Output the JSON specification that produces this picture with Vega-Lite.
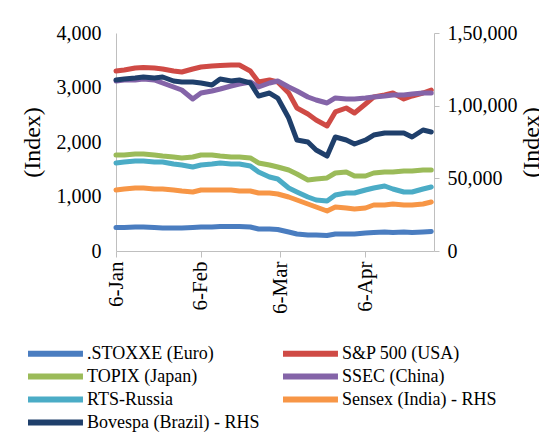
{
"$schema": "https://vega.github.io/schema/vega-lite/v6.json",
"width": 318,
"height": 218,
"autosize": "none",
"padding": {"left": 116, "top": 33, "right": 105, "bottom": 187},
"background": "white",
"config": {
  "view": {"stroke": null},
  "font": "Liberation Serif",
  "axis": {"grid": false, "labelFont": "Liberation Serif", "labelFontSize": 20, "labelColor": "#000000", "titleFont": "Liberation Serif", "titleFontSize": 24, "titleFontWeight": "normal", "titleColor": "#000000", "domainColor": "#BFBFBF", "tickColor": "#BFBFBF"}
},
"datasets": {
"idx": [
{"d":"2020-01-06","s":".STOXXE (Euro)","v":431},{"d":"2020-01-09","s":".STOXXE (Euro)","v":431},{"d":"2020-01-13","s":".STOXXE (Euro)","v":440},{"d":"2020-01-16","s":".STOXXE (Euro)","v":440},{"d":"2020-01-20","s":".STOXXE (Euro)","v":431},{"d":"2020-01-23","s":".STOXXE (Euro)","v":422},{"d":"2020-01-27","s":".STOXXE (Euro)","v":422},{"d":"2020-01-30","s":".STOXXE (Euro)","v":422},{"d":"2020-02-03","s":".STOXXE (Euro)","v":431},{"d":"2020-02-06","s":".STOXXE (Euro)","v":440},{"d":"2020-02-10","s":".STOXXE (Euro)","v":440},{"d":"2020-02-13","s":".STOXXE (Euro)","v":450},{"d":"2020-02-17","s":".STOXXE (Euro)","v":450},{"d":"2020-02-20","s":".STOXXE (Euro)","v":450},{"d":"2020-02-24","s":".STOXXE (Euro)","v":440},{"d":"2020-02-27","s":".STOXXE (Euro)","v":404},{"d":"2020-03-02","s":".STOXXE (Euro)","v":404},{"d":"2020-03-05","s":".STOXXE (Euro)","v":395},{"d":"2020-03-09","s":".STOXXE (Euro)","v":349},{"d":"2020-03-12","s":".STOXXE (Euro)","v":312},{"d":"2020-03-16","s":".STOXXE (Euro)","v":294},{"d":"2020-03-19","s":".STOXXE (Euro)","v":294},{"d":"2020-03-23","s":".STOXXE (Euro)","v":284},{"d":"2020-03-26","s":".STOXXE (Euro)","v":312},{"d":"2020-03-30","s":".STOXXE (Euro)","v":312},{"d":"2020-04-02","s":".STOXXE (Euro)","v":312},{"d":"2020-04-06","s":".STOXXE (Euro)","v":330},{"d":"2020-04-09","s":".STOXXE (Euro)","v":339},{"d":"2020-04-13","s":".STOXXE (Euro)","v":349},{"d":"2020-04-16","s":".STOXXE (Euro)","v":339},{"d":"2020-04-20","s":".STOXXE (Euro)","v":349},{"d":"2020-04-23","s":".STOXXE (Euro)","v":339},{"d":"2020-04-27","s":".STOXXE (Euro)","v":349},{"d":"2020-04-30","s":".STOXXE (Euro)","v":358},
{"d":"2020-01-06","s":"S&P 500 (USA)","v":3303},{"d":"2020-01-09","s":"S&P 500 (USA)","v":3321},{"d":"2020-01-13","s":"S&P 500 (USA)","v":3358},{"d":"2020-01-16","s":"S&P 500 (USA)","v":3367},{"d":"2020-01-20","s":"S&P 500 (USA)","v":3358},{"d":"2020-01-23","s":"S&P 500 (USA)","v":3340},{"d":"2020-01-27","s":"S&P 500 (USA)","v":3303},{"d":"2020-01-30","s":"S&P 500 (USA)","v":3285},{"d":"2020-02-03","s":"S&P 500 (USA)","v":3340},{"d":"2020-02-06","s":"S&P 500 (USA)","v":3376},{"d":"2020-02-10","s":"S&P 500 (USA)","v":3395},{"d":"2020-02-13","s":"S&P 500 (USA)","v":3404},{"d":"2020-02-17","s":"S&P 500 (USA)","v":3413},{"d":"2020-02-20","s":"S&P 500 (USA)","v":3413},{"d":"2020-02-24","s":"S&P 500 (USA)","v":3303},{"d":"2020-02-27","s":"S&P 500 (USA)","v":3101},{"d":"2020-03-02","s":"S&P 500 (USA)","v":3138},{"d":"2020-03-05","s":"S&P 500 (USA)","v":3101},{"d":"2020-03-09","s":"S&P 500 (USA)","v":2899},{"d":"2020-03-12","s":"S&P 500 (USA)","v":2624},{"d":"2020-03-16","s":"S&P 500 (USA)","v":2514},{"d":"2020-03-19","s":"S&P 500 (USA)","v":2404},{"d":"2020-03-23","s":"S&P 500 (USA)","v":2294},{"d":"2020-03-26","s":"S&P 500 (USA)","v":2551},{"d":"2020-03-30","s":"S&P 500 (USA)","v":2624},{"d":"2020-04-02","s":"S&P 500 (USA)","v":2532},{"d":"2020-04-06","s":"S&P 500 (USA)","v":2697},{"d":"2020-04-09","s":"S&P 500 (USA)","v":2826},{"d":"2020-04-13","s":"S&P 500 (USA)","v":2863},{"d":"2020-04-16","s":"S&P 500 (USA)","v":2899},{"d":"2020-04-20","s":"S&P 500 (USA)","v":2789},{"d":"2020-04-23","s":"S&P 500 (USA)","v":2844},{"d":"2020-04-27","s":"S&P 500 (USA)","v":2899},{"d":"2020-04-30","s":"S&P 500 (USA)","v":2954},
{"d":"2020-01-06","s":"TOPIX (Japan)","v":1762},{"d":"2020-01-09","s":"TOPIX (Japan)","v":1762},{"d":"2020-01-13","s":"TOPIX (Japan)","v":1780},{"d":"2020-01-16","s":"TOPIX (Japan)","v":1780},{"d":"2020-01-20","s":"TOPIX (Japan)","v":1762},{"d":"2020-01-23","s":"TOPIX (Japan)","v":1743},{"d":"2020-01-27","s":"TOPIX (Japan)","v":1725},{"d":"2020-01-30","s":"TOPIX (Japan)","v":1707},{"d":"2020-02-03","s":"TOPIX (Japan)","v":1725},{"d":"2020-02-06","s":"TOPIX (Japan)","v":1762},{"d":"2020-02-10","s":"TOPIX (Japan)","v":1762},{"d":"2020-02-13","s":"TOPIX (Japan)","v":1743},{"d":"2020-02-17","s":"TOPIX (Japan)","v":1725},{"d":"2020-02-20","s":"TOPIX (Japan)","v":1725},{"d":"2020-02-24","s":"TOPIX (Japan)","v":1707},{"d":"2020-02-27","s":"TOPIX (Japan)","v":1615},{"d":"2020-03-02","s":"TOPIX (Japan)","v":1578},{"d":"2020-03-05","s":"TOPIX (Japan)","v":1541},{"d":"2020-03-09","s":"TOPIX (Japan)","v":1486},{"d":"2020-03-12","s":"TOPIX (Japan)","v":1413},{"d":"2020-03-16","s":"TOPIX (Japan)","v":1303},{"d":"2020-03-19","s":"TOPIX (Japan)","v":1321},{"d":"2020-03-23","s":"TOPIX (Japan)","v":1340},{"d":"2020-03-26","s":"TOPIX (Japan)","v":1431},{"d":"2020-03-30","s":"TOPIX (Japan)","v":1450},{"d":"2020-04-02","s":"TOPIX (Japan)","v":1376},{"d":"2020-04-06","s":"TOPIX (Japan)","v":1376},{"d":"2020-04-09","s":"TOPIX (Japan)","v":1431},{"d":"2020-04-13","s":"TOPIX (Japan)","v":1450},{"d":"2020-04-16","s":"TOPIX (Japan)","v":1450},{"d":"2020-04-20","s":"TOPIX (Japan)","v":1468},{"d":"2020-04-23","s":"TOPIX (Japan)","v":1468},{"d":"2020-04-27","s":"TOPIX (Japan)","v":1486},{"d":"2020-04-30","s":"TOPIX (Japan)","v":1486},
{"d":"2020-01-06","s":"SSEC (China)","v":3120},{"d":"2020-01-09","s":"SSEC (China)","v":3138},{"d":"2020-01-13","s":"SSEC (China)","v":3138},{"d":"2020-01-16","s":"SSEC (China)","v":3156},{"d":"2020-01-20","s":"SSEC (China)","v":3138},{"d":"2020-01-23","s":"SSEC (China)","v":3083},{"d":"2020-01-27","s":"SSEC (China)","v":3009},{"d":"2020-01-30","s":"SSEC (China)","v":2954},{"d":"2020-02-03","s":"SSEC (China)","v":2789},{"d":"2020-02-06","s":"SSEC (China)","v":2899},{"d":"2020-02-10","s":"SSEC (China)","v":2936},{"d":"2020-02-13","s":"SSEC (China)","v":2973},{"d":"2020-02-17","s":"SSEC (China)","v":3028},{"d":"2020-02-20","s":"SSEC (China)","v":3064},{"d":"2020-02-24","s":"SSEC (China)","v":3101},{"d":"2020-02-27","s":"SSEC (China)","v":3009},{"d":"2020-03-02","s":"SSEC (China)","v":3083},{"d":"2020-03-05","s":"SSEC (China)","v":3120},{"d":"2020-03-09","s":"SSEC (China)","v":3009},{"d":"2020-03-12","s":"SSEC (China)","v":2936},{"d":"2020-03-16","s":"SSEC (China)","v":2826},{"d":"2020-03-19","s":"SSEC (China)","v":2771},{"d":"2020-03-23","s":"SSEC (China)","v":2716},{"d":"2020-03-26","s":"SSEC (China)","v":2808},{"d":"2020-03-30","s":"SSEC (China)","v":2789},{"d":"2020-04-02","s":"SSEC (China)","v":2789},{"d":"2020-04-06","s":"SSEC (China)","v":2808},{"d":"2020-04-09","s":"SSEC (China)","v":2826},{"d":"2020-04-13","s":"SSEC (China)","v":2844},{"d":"2020-04-16","s":"SSEC (China)","v":2863},{"d":"2020-04-20","s":"SSEC (China)","v":2863},{"d":"2020-04-23","s":"SSEC (China)","v":2881},{"d":"2020-04-27","s":"SSEC (China)","v":2899},{"d":"2020-04-30","s":"SSEC (China)","v":2899},
{"d":"2020-01-06","s":"RTS-Russia","v":1615},{"d":"2020-01-09","s":"RTS-Russia","v":1633},{"d":"2020-01-13","s":"RTS-Russia","v":1652},{"d":"2020-01-16","s":"RTS-Russia","v":1652},{"d":"2020-01-20","s":"RTS-Russia","v":1633},{"d":"2020-01-23","s":"RTS-Russia","v":1633},{"d":"2020-01-27","s":"RTS-Russia","v":1596},{"d":"2020-01-30","s":"RTS-Russia","v":1578},{"d":"2020-02-03","s":"RTS-Russia","v":1541},{"d":"2020-02-06","s":"RTS-Russia","v":1578},{"d":"2020-02-10","s":"RTS-Russia","v":1596},{"d":"2020-02-13","s":"RTS-Russia","v":1615},{"d":"2020-02-17","s":"RTS-Russia","v":1596},{"d":"2020-02-20","s":"RTS-Russia","v":1596},{"d":"2020-02-24","s":"RTS-Russia","v":1560},{"d":"2020-02-27","s":"RTS-Russia","v":1450},{"d":"2020-03-02","s":"RTS-Russia","v":1358},{"d":"2020-03-05","s":"RTS-Russia","v":1321},{"d":"2020-03-09","s":"RTS-Russia","v":1156},{"d":"2020-03-12","s":"RTS-Russia","v":1083},{"d":"2020-03-16","s":"RTS-Russia","v":991},{"d":"2020-03-19","s":"RTS-Russia","v":936},{"d":"2020-03-23","s":"RTS-Russia","v":918},{"d":"2020-03-26","s":"RTS-Russia","v":1028},{"d":"2020-03-30","s":"RTS-Russia","v":1064},{"d":"2020-04-02","s":"RTS-Russia","v":1064},{"d":"2020-04-06","s":"RTS-Russia","v":1119},{"d":"2020-04-09","s":"RTS-Russia","v":1156},{"d":"2020-04-13","s":"RTS-Russia","v":1193},{"d":"2020-04-16","s":"RTS-Russia","v":1138},{"d":"2020-04-20","s":"RTS-Russia","v":1083},{"d":"2020-04-23","s":"RTS-Russia","v":1083},{"d":"2020-04-27","s":"RTS-Russia","v":1138},{"d":"2020-04-30","s":"RTS-Russia","v":1174},
{"d":"2020-01-06","s":"Sensex (India) - RHS","v":41968},{"d":"2020-01-09","s":"Sensex (India) - RHS","v":42656},{"d":"2020-01-13","s":"Sensex (India) - RHS","v":43344},{"d":"2020-01-16","s":"Sensex (India) - RHS","v":43344},{"d":"2020-01-20","s":"Sensex (India) - RHS","v":42656},{"d":"2020-01-23","s":"Sensex (India) - RHS","v":42656},{"d":"2020-01-27","s":"Sensex (India) - RHS","v":41968},{"d":"2020-01-30","s":"Sensex (India) - RHS","v":41280},{"d":"2020-02-03","s":"Sensex (India) - RHS","v":40592},{"d":"2020-02-06","s":"Sensex (India) - RHS","v":41968},{"d":"2020-02-10","s":"Sensex (India) - RHS","v":41968},{"d":"2020-02-13","s":"Sensex (India) - RHS","v":41968},{"d":"2020-02-17","s":"Sensex (India) - RHS","v":41968},{"d":"2020-02-20","s":"Sensex (India) - RHS","v":41280},{"d":"2020-02-24","s":"Sensex (India) - RHS","v":41280},{"d":"2020-02-27","s":"Sensex (India) - RHS","v":39904},{"d":"2020-03-02","s":"Sensex (India) - RHS","v":39904},{"d":"2020-03-05","s":"Sensex (India) - RHS","v":39216},{"d":"2020-03-09","s":"Sensex (India) - RHS","v":37152},{"d":"2020-03-12","s":"Sensex (India) - RHS","v":35088},{"d":"2020-03-16","s":"Sensex (India) - RHS","v":32336},{"d":"2020-03-19","s":"Sensex (India) - RHS","v":30272},{"d":"2020-03-23","s":"Sensex (India) - RHS","v":27520},{"d":"2020-03-26","s":"Sensex (India) - RHS","v":30272},{"d":"2020-03-30","s":"Sensex (India) - RHS","v":29584},{"d":"2020-04-02","s":"Sensex (India) - RHS","v":28896},{"d":"2020-04-06","s":"Sensex (India) - RHS","v":29584},{"d":"2020-04-09","s":"Sensex (India) - RHS","v":31648},{"d":"2020-04-13","s":"Sensex (India) - RHS","v":31648},{"d":"2020-04-16","s":"Sensex (India) - RHS","v":32336},{"d":"2020-04-20","s":"Sensex (India) - RHS","v":31648},{"d":"2020-04-23","s":"Sensex (India) - RHS","v":31648},{"d":"2020-04-27","s":"Sensex (India) - RHS","v":32336},{"d":"2020-04-30","s":"Sensex (India) - RHS","v":33712},
{"d":"2020-01-06","s":"Bovespa (Brazil) - RHS","v":117648},{"d":"2020-01-09","s":"Bovespa (Brazil) - RHS","v":118336},{"d":"2020-01-13","s":"Bovespa (Brazil) - RHS","v":119024},{"d":"2020-01-16","s":"Bovespa (Brazil) - RHS","v":119712},{"d":"2020-01-20","s":"Bovespa (Brazil) - RHS","v":119024},{"d":"2020-01-23","s":"Bovespa (Brazil) - RHS","v":119712},{"d":"2020-01-27","s":"Bovespa (Brazil) - RHS","v":116960},{"d":"2020-01-30","s":"Bovespa (Brazil) - RHS","v":116272},{"d":"2020-02-03","s":"Bovespa (Brazil) - RHS","v":116272},{"d":"2020-02-06","s":"Bovespa (Brazil) - RHS","v":115584},{"d":"2020-02-10","s":"Bovespa (Brazil) - RHS","v":114208},{"d":"2020-02-13","s":"Bovespa (Brazil) - RHS","v":118336},{"d":"2020-02-17","s":"Bovespa (Brazil) - RHS","v":116960},{"d":"2020-02-20","s":"Bovespa (Brazil) - RHS","v":117648},{"d":"2020-02-24","s":"Bovespa (Brazil) - RHS","v":115584},{"d":"2020-02-27","s":"Bovespa (Brazil) - RHS","v":106640},{"d":"2020-03-02","s":"Bovespa (Brazil) - RHS","v":108704},{"d":"2020-03-05","s":"Bovespa (Brazil) - RHS","v":105264},{"d":"2020-03-09","s":"Bovespa (Brazil) - RHS","v":91504},{"d":"2020-03-12","s":"Bovespa (Brazil) - RHS","v":76368},{"d":"2020-03-16","s":"Bovespa (Brazil) - RHS","v":74992},{"d":"2020-03-19","s":"Bovespa (Brazil) - RHS","v":69488},{"d":"2020-03-23","s":"Bovespa (Brazil) - RHS","v":65360},{"d":"2020-03-26","s":"Bovespa (Brazil) - RHS","v":78432},{"d":"2020-03-30","s":"Bovespa (Brazil) - RHS","v":76368},{"d":"2020-04-02","s":"Bovespa (Brazil) - RHS","v":73616},{"d":"2020-04-06","s":"Bovespa (Brazil) - RHS","v":76368},{"d":"2020-04-09","s":"Bovespa (Brazil) - RHS","v":79808},{"d":"2020-04-13","s":"Bovespa (Brazil) - RHS","v":81184},{"d":"2020-04-16","s":"Bovespa (Brazil) - RHS","v":81184},{"d":"2020-04-20","s":"Bovespa (Brazil) - RHS","v":81184},{"d":"2020-04-23","s":"Bovespa (Brazil) - RHS","v":78432},{"d":"2020-04-27","s":"Bovespa (Brazil) - RHS","v":83248},{"d":"2020-04-30","s":"Bovespa (Brazil) - RHS","v":81872}
]
},
"data": {"name": "idx"},
"encoding": {
  "x": {
    "field": "d", "type": "temporal",
    "scale": {"type": "utc", "domain": [{"year": 2020, "month": 1, "date": 6, "utc": true}, {"year": 2020, "month": 5, "date": 1, "utc": true}]},
    "axis": {"title": null, "values": [{"year": 2020, "month": 1, "date": 6, "utc": true}, {"year": 2020, "month": 2, "date": 6, "utc": true}, {"year": 2020, "month": 3, "date": 6, "utc": true}, {"year": 2020, "month": 4, "date": 6, "utc": true}], "labelExpr": "utcFormat(datum.value, '%-d-%b')", "labelAngle": 270, "labelFontSize": 21, "tickSize": 6, "labelPadding": 4}
  },
  "color": {
    "field": "s", "type": "nominal",
    "scale": {"domain": [".STOXXE (Euro)", "TOPIX (Japan)", "RTS-Russia", "Bovespa (Brazil) - RHS", "S&P 500 (USA)", "SSEC (China)", "Sensex (India) - RHS"], "range": ["#4A7DC0", "#9BBB59", "#4BACC6", "#1F3F6B", "#CF4A45", "#8464A8", "#F79646"]},
    "legend": {"orient": "none", "legendX": -91, "legendY": 310, "columns": 2, "columnPadding": 11, "rowPadding": -2, "padding": 0, "title": null, "symbolType": "M-1,0H6.33", "symbolSize": 225, "symbolStrokeWidth": 6, "labelFont": "Liberation Serif", "labelFontSize": 18, "labelColor": "#000000", "labelOffset": 41, "labelLimit": 300}
  }
},
"layer": [
  {
    "transform": [{"filter": {"not": {"field": "s", "oneOf": ["Sensex (India) - RHS", "Bovespa (Brazil) - RHS"]}}}],
    "mark": {"type": "line", "strokeWidth": 5, "strokeCap": "round", "strokeJoin": "round"},
    "encoding": {
      "y": {"field": "v", "type": "quantitative", "scale": {"domain": [0, 4000], "nice": false}, "axis": {"title": "(Index)", "values": [0, 1000, 2000, 3000, 4000], "format": ",.0f", "ticks": false, "labelPadding": 15, "titlePadding": 12}}
    }
  },
  {
    "transform": [{"filter": {"field": "s", "oneOf": ["Sensex (India) - RHS", "Bovespa (Brazil) - RHS"]}}],
    "mark": {"type": "line", "strokeWidth": 5, "strokeCap": "round", "strokeJoin": "round"},
    "encoding": {
      "y": {"field": "v", "type": "quantitative", "scale": {"domain": [0, 150000], "nice": false}, "axis": {"orient": "right", "title": "(Index)", "values": [0, 50000, 100000, 150000], "labelExpr": "datum.value == 150000 ? '1,50,000' : datum.value == 100000 ? '1,00,000' : format(datum.value, ',.0f')", "tickSize": 5, "labelPadding": 8, "titleAngle": 270, "titleBaseline": "top", "titlePadding": 2}}
    }
  }
],
"resolve": {"scale": {"y": "independent"}}
}
